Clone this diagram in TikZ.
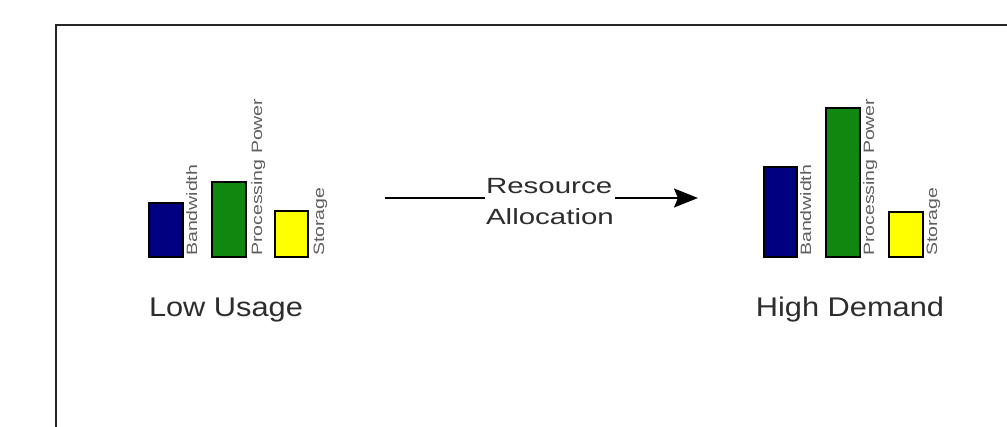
\documentclass[tikz,border=0pt]{standalone}
\usepackage{fontspec}
\setmainfont{Liberation Sans}
\usetikzlibrary{arrows.meta}

\definecolor{barblue}{RGB}{0,0,128}
\definecolor{bargreen}{RGB}{16,136,16}
\definecolor{baryellow}{RGB}{255,255,0}
\definecolor{axistext}{RGB}{95,95,95}
\definecolor{labeltext}{RGB}{45,45,45}

\begin{document}
\begin{tikzpicture}[x=1pt,y=-1pt,
  bar/.style={draw=black, line width=1.6pt, inner sep=0pt, anchor=south west},
  barname/.style={rotate=90, anchor=base west, inner sep=0pt, text=axistext,
                  font=\fontsize{15}{15}\selectfont},
  caption/.style={text=labeltext, font=\fontsize{27}{30}\selectfont,
                  inner sep=0pt, anchor=base},
  flowlabel/.style={fill=white, text=labeltext, font=\fontsize{22}{31}\selectfont,
                    align=left, inner sep=1pt}]

\useasboundingbox (0,0) rectangle (1007,427);
\fill[white] (0,0) rectangle (1007,427);

% frame edges
\draw[line width=2.5pt, black!85] (1007,25) -- (56,25) -- (56,427);

% low usage group
\node[bar, fill=barblue,   minimum width=34pt, minimum height=54pt] (lowbw) at (148,258) {};
\node[bar, fill=bargreen,  minimum width=34pt, minimum height=75pt] (lowpp) at (211,258) {};
\node[bar, fill=baryellow, minimum width=33pt, minimum height=46pt] (lowst) at (274,258) {};
\node[barname] (lowbwname) at (197,256) {\scalebox{1.3}[1]{Bandwidth}};
\node[barname] (lowppname) at (262,256) {\scalebox{1.3}[1]{Processing Power}};
\node[barname] (lowstname) at (324,256) {\scalebox{1.3}[1]{Storage}};
\node[caption] (lowcap) at (226,317) {\scalebox{1.14}[1]{Low Usage}};

% high demand group
\node[bar, fill=barblue,   minimum width=33pt, minimum height=90pt]  (highbw) at (763,258) {};
\node[bar, fill=bargreen,  minimum width=34pt, minimum height=149pt] (highpp) at (825,258) {};
\node[bar, fill=baryellow, minimum width=34pt, minimum height=45pt]  (highst) at (888,258) {};
\node[barname] (highbwname) at (811,256) {\scalebox{1.3}[1]{Bandwidth}};
\node[barname] (highppname) at (874,256) {\scalebox{1.3}[1]{Processing Power}};
\node[barname] (highstname) at (937,256) {\scalebox{1.3}[1]{Storage}};
\node[caption] (highcap) at (850,317) {\scalebox{1.14}[1]{High Demand}};

% transition arrow
\coordinate (arrtail) at (385,198);
\coordinate (arrhead) at (698,198);
\draw[line width=2pt, -{Stealth[length=24pt,width=19pt,inset=4pt]}]
  (arrtail) -- node[flowlabel, pos=0.527, yshift=-4pt] (flowname)
  {\scalebox{1.34}[1]{Resource}\\\scalebox{1.34}[1]{Allocation}} (arrhead);

\end{tikzpicture}
\end{document}
